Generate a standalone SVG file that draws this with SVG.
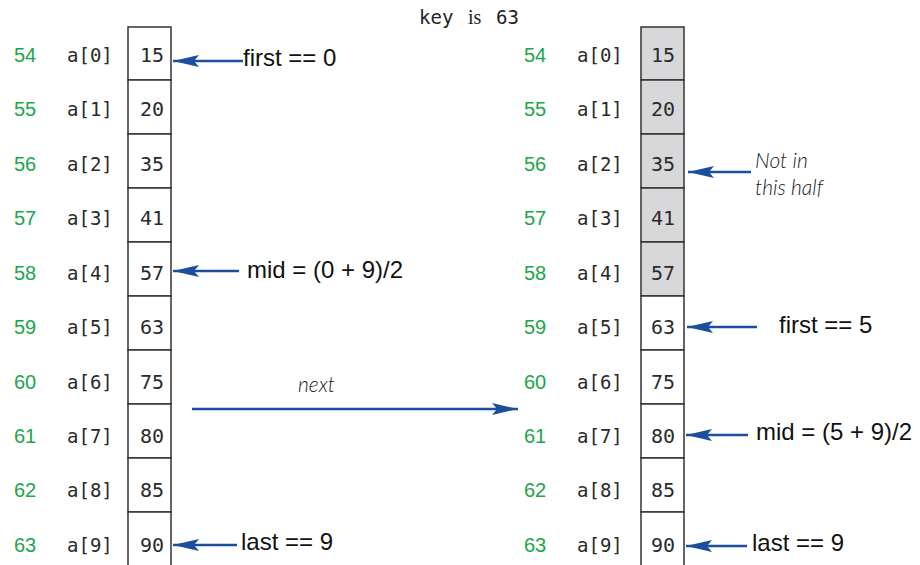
<svg xmlns="http://www.w3.org/2000/svg" width="920" height="565" viewBox="0 0 920 565">
<style>
.cell{fill:#fff;stroke:#333;stroke-width:1.5}
.gray{fill:#d8d8da}
.val{font-family:"DejaVu Sans Mono",monospace;font-size:20px;fill:#2a2a2a;text-anchor:middle}
.idx{font-family:"DejaVu Sans Mono",monospace;font-size:19px;fill:#2a2a2a}
.ln{font-family:"Liberation Sans",Arial,sans-serif;font-size:20px;fill:#1aa64a}
.lab{font-family:"Liberation Sans",Arial,sans-serif;font-size:24px;fill:#111}
.hand{font-family:Lato,"Open Sans",sans-serif;font-style:italic;font-weight:300;font-size:21px;fill:#222}
.arr{stroke:#1b4f9e;stroke-width:2.5;fill:none;marker-end:url(#ah)}
</style>
<defs>
<marker id="ah" markerUnits="userSpaceOnUse" markerWidth="26" markerHeight="12" refX="26" refY="6" orient="auto">
<path d="M0,0 L26,6 L0,12 L5,6 z" fill="#1b4f9e"/>
</marker>
</defs>
<text x="419" y="24" style="font-family:'DejaVu Sans Mono',monospace;font-size:19px;fill:#222">key</text>
<text x="468" y="24" style="font-family:'Liberation Serif',serif;font-size:20px;fill:#222">is</text>
<text x="496" y="24" style="font-family:'DejaVu Sans Mono',monospace;font-size:19px;fill:#222">63</text>

<g id="left-array">
<rect class="cell" x="128" y="27" width="43" height="53"/>
<rect class="cell" x="128" y="80" width="43" height="54"/>
<rect class="cell" x="128" y="134" width="43" height="54"/>
<rect class="cell" x="128" y="188" width="43" height="54"/>
<rect class="cell" x="128" y="242" width="43" height="54"/>
<rect class="cell" x="128" y="296" width="43" height="54"/>
<rect class="cell" x="128" y="350" width="43" height="54"/>
<rect class="cell" x="128" y="404" width="43" height="54"/>
<rect class="cell" x="128" y="458" width="43" height="54"/>
<rect class="cell" x="128" y="512" width="43" height="56"/>
<text class="val" x="152" y="62">15</text>
<text class="val" x="152" y="116">20</text>
<text class="val" x="152" y="171">35</text>
<text class="val" x="152" y="225">41</text>
<text class="val" x="152" y="280">57</text>
<text class="val" x="152" y="334">63</text>
<text class="val" x="152" y="389">75</text>
<text class="val" x="152" y="443">80</text>
<text class="val" x="152" y="497">85</text>
<text class="val" x="152" y="552">90</text>
<text class="ln" x="14" y="62">54</text>
<text class="ln" x="14" y="116">55</text>
<text class="ln" x="14" y="171">56</text>
<text class="ln" x="14" y="225">57</text>
<text class="ln" x="14" y="280">58</text>
<text class="ln" x="14" y="334">59</text>
<text class="ln" x="14" y="389">60</text>
<text class="ln" x="14" y="443">61</text>
<text class="ln" x="14" y="497">62</text>
<text class="ln" x="14" y="552">63</text>
<text class="idx" x="67" y="62">a[0]</text>
<text class="idx" x="67" y="116">a[1]</text>
<text class="idx" x="67" y="171">a[2]</text>
<text class="idx" x="67" y="225">a[3]</text>
<text class="idx" x="67" y="280">a[4]</text>
<text class="idx" x="67" y="334">a[5]</text>
<text class="idx" x="67" y="389">a[6]</text>
<text class="idx" x="67" y="443">a[7]</text>
<text class="idx" x="67" y="497">a[8]</text>
<text class="idx" x="67" y="552">a[9]</text>
</g>

<g id="right-array">
<rect class="cell gray" x="641" y="27" width="43" height="53"/>
<rect class="cell gray" x="641" y="80" width="43" height="54"/>
<rect class="cell gray" x="641" y="134" width="43" height="54"/>
<rect class="cell gray" x="641" y="188" width="43" height="54"/>
<rect class="cell gray" x="641" y="242" width="43" height="54"/>
<rect class="cell" x="641" y="296" width="43" height="54"/>
<rect class="cell" x="641" y="350" width="43" height="54"/>
<rect class="cell" x="641" y="404" width="43" height="54"/>
<rect class="cell" x="641" y="458" width="43" height="54"/>
<rect class="cell" x="641" y="512" width="43" height="56"/>
<text class="val" x="663" y="62">15</text>
<text class="val" x="663" y="116">20</text>
<text class="val" x="663" y="171">35</text>
<text class="val" x="663" y="225">41</text>
<text class="val" x="663" y="280">57</text>
<text class="val" x="663" y="334">63</text>
<text class="val" x="663" y="389">75</text>
<text class="val" x="663" y="443">80</text>
<text class="val" x="663" y="497">85</text>
<text class="val" x="663" y="552">90</text>
<text class="ln" x="524" y="62">54</text>
<text class="ln" x="524" y="116">55</text>
<text class="ln" x="524" y="171">56</text>
<text class="ln" x="524" y="225">57</text>
<text class="ln" x="524" y="280">58</text>
<text class="ln" x="524" y="334">59</text>
<text class="ln" x="524" y="389">60</text>
<text class="ln" x="524" y="443">61</text>
<text class="ln" x="524" y="497">62</text>
<text class="ln" x="524" y="552">63</text>
<text class="idx" x="577" y="62">a[0]</text>
<text class="idx" x="577" y="116">a[1]</text>
<text class="idx" x="577" y="171">a[2]</text>
<text class="idx" x="577" y="225">a[3]</text>
<text class="idx" x="577" y="280">a[4]</text>
<text class="idx" x="577" y="334">a[5]</text>
<text class="idx" x="577" y="389">a[6]</text>
<text class="idx" x="577" y="443">a[7]</text>
<text class="idx" x="577" y="497">a[8]</text>
<text class="idx" x="577" y="552">a[9]</text>
</g>

<g id="labels">
<text class="lab" x="243" y="66">first == 0</text>
<text class="lab" x="247" y="278">mid = (0 + 9)/2</text>
<text class="lab" x="241" y="550">last == 9</text>
<text class="hand" x="755" y="168">Not in</text>
<text class="hand" x="755" y="195">this half</text>
<text class="lab" x="779" y="333">first == 5</text>
<text class="lab" x="756" y="440">mid = (5 + 9)/2</text>
<text class="lab" x="752" y="551">last == 9</text>
<text class="hand" x="298" y="392">next</text>
</g>

<g id="connectors">
<line class="arr" x1="243" y1="61" x2="173" y2="61"/>
<line class="arr" x1="239" y1="271" x2="173" y2="271"/>
<line class="arr" x1="237" y1="545" x2="173" y2="545"/>
<line class="arr" x1="751" y1="172" x2="688" y2="172"/>
<line class="arr" x1="757" y1="327" x2="687" y2="327"/>
<line class="arr" x1="748" y1="435" x2="686" y2="435"/>
<line class="arr" x1="747" y1="546" x2="686" y2="546"/>
<line class="arr" x1="192" y1="409" x2="518" y2="409"/>
</g>
</svg>
